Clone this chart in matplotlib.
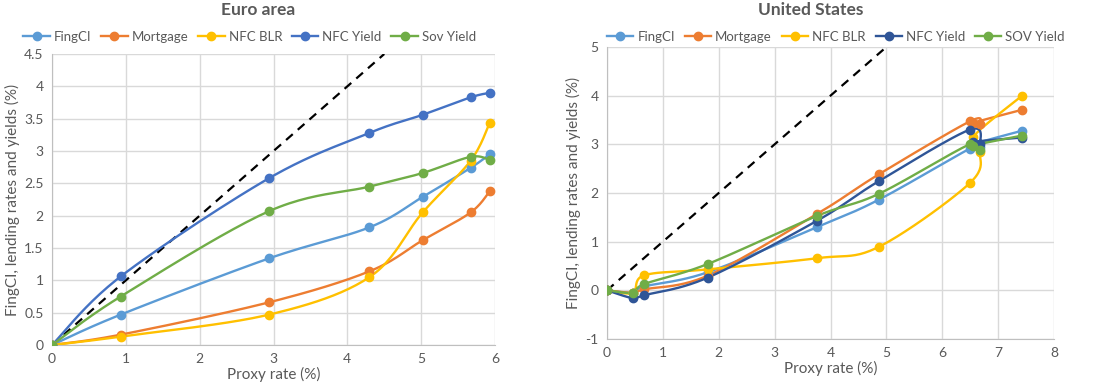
import matplotlib
matplotlib.use("Agg")
import matplotlib.pyplot as plt
import numpy as np
from matplotlib.ticker import FuncFormatter

plt.rcParams['font.family'] = ['Lato', 'DejaVu Sans']

# Euro area (proxy rate vs. response, %)
ea_proxy = [0, 0.93, 2.94, 4.30, 5.02, 5.67, 5.93]
ea_fingci = [0, 0.47, 1.34, 1.82, 2.29, 2.74, 2.95]
ea_mortgage = [0, 0.16, 0.66, 1.14, 1.62, 2.05, 2.38]
ea_nfc_blr = [0, 0.13, 0.47, 1.05, 2.05, 2.85, 3.44]
ea_nfc_yield = [0, 1.06, 2.58, 3.28, 3.56, 3.83, 3.90]
ea_sov_yield = [0, 0.75, 2.07, 2.45, 2.66, 2.91, 2.86]

# United States
us_proxy = [0, 0.46, 0.67, 1.80, 3.76, 4.86, 6.49, 6.67, 6.55, 7.43]
us_fingci = [0, -0.05, 0.08, 0.37, 1.30, 1.86, 2.91, 2.95, 3.00, 3.28]
us_mortgage = [0, -0.05, 0.02, 0.30, 1.57, 2.38, 3.47, 3.42, 3.44, 3.71]
us_nfc_blr = [0, -0.05, 0.31, 0.43, 0.66, 0.89, 2.20, 2.84, 3.15, 4.00]
us_nfc_yield = [0, -0.16, -0.10, 0.26, 1.43, 2.24, 3.30, 3.00, 3.05, 3.14]
us_sov_yield = [0, -0.05, 0.13, 0.54, 1.53, 1.98, 3.00, 2.88, 2.97, 3.18]

ea_labels = ["FingCI", "Mortgage", "NFC BLR", "NFC Yield", "Sov Yield"]
us_labels = ["FingCI", "Mortgage", "NFC BLR", "NFC Yield", "SOV Yield"]
ea_colors = ["#5B9BD5", "#ED7D31", "#FFC000", "#4472C4", "#70AD47"]
us_colors = ["#5B9BD5", "#ED7D31", "#FFC000", "#2F5597", "#70AD47"]

TXT = "#595959"


def smooth(x, y, n=25):
    # Excel-style smoothed line (Catmull-Rom as cubic Bezier)
    p = np.column_stack([x, y]).astype(float)
    segs = []
    t = np.linspace(0, 1, n)[:, None]
    for i in range(len(p) - 1):
        p0, p1, p2 = p[max(i - 1, 0)], p[i], p[i + 1]
        p3 = p[min(i + 2, len(p) - 1)]
        c1 = p1 + (p2 - p0) / 6
        c2 = p2 - (p3 - p1) / 6
        segs.append((1 - t) ** 3 * p1 + 3 * (1 - t) ** 2 * t * c1
                    + 3 * (1 - t) * t ** 2 * c2 + t ** 3 * p2)
    s = np.vstack(segs)
    return s[:, 0], s[:, 1]


def draw(ax, proxy, series, labels, colors, xmax, ymin, ymax, ystep):
    ax.plot([0, ymax], [0, ymax], ls=(0, (4, 3)), color="black", lw=1.6, zorder=2)
    handles = []
    for vals, lab, col in zip(series, labels, colors):
        sx, sy = smooth(proxy, vals)
        ax.plot(sx, sy, color=col, lw=1.7, zorder=3)
        ax.plot(proxy, vals, 'o', color=col, ms=6, zorder=4)
        h, = ax.plot([], [], '-o', color=col, lw=1.7, ms=6, label=lab)
        handles.append(h)
    ax.set_xlim(0, xmax)
    ax.set_ylim(ymin, ymax)
    ax.set_xticks(np.arange(0, xmax + 0.01, 1))
    ax.set_yticks(np.arange(ymin, ymax + 0.001, ystep))
    ax.yaxis.set_major_formatter(FuncFormatter(lambda v, p: "%g" % round(v, 2)))
    ax.grid(True, color="#D9D9D9", lw=1)
    ax.set_axisbelow(True)
    for s in ["top", "right"]:
        ax.spines[s].set_visible(False)
    for s in ["left", "bottom"]:
        ax.spines[s].set_color("#BFBFBF")
    ax.tick_params(colors=TXT, labelsize=10, length=0, pad=6)
    ax.set_xlabel("Proxy rate (%)", color=TXT, fontsize=11, labelpad=1)
    ax.set_ylabel("FingCI, lending rates and yields (%)", color=TXT, fontsize=11, labelpad=3)
    return handles


fig = plt.figure(figsize=(11, 3.88), dpi=100)
ax1 = fig.add_axes([0.0473, 0.1108, 0.4027, 0.75])
ax2 = fig.add_axes([0.5518, 0.1263, 0.4064, 0.7526])

h1 = draw(ax1, ea_proxy, [ea_fingci, ea_mortgage, ea_nfc_blr, ea_nfc_yield, ea_sov_yield],
          ea_labels, ea_colors, 6, 0, 4.5, 0.5)
h2 = draw(ax2, us_proxy, [us_fingci, us_mortgage, us_nfc_blr, us_nfc_yield, us_sov_yield],
          us_labels, us_colors, 8, -1, 5, 1)

fig.text(0.235, 0.975, "Euro area", ha="center", va="center", fontsize=12.5,
         fontweight="bold", color=TXT)
fig.text(0.737, 0.975, "United States", ha="center", va="center", fontsize=12.5,
         fontweight="bold", color=TXT)

leg_kw = dict(ncol=5, frameon=False, fontsize=9.5, handlelength=2.0, columnspacing=0.75,
              handletextpad=0.3, labelcolor=TXT, loc="center")
fig.legend(handles=h1, bbox_to_anchor=(0.227, 0.905), **leg_kw)
fig.legend(handles=h2, bbox_to_anchor=(0.76, 0.905), **leg_kw)

fig.savefig("out.png", dpi=100)
